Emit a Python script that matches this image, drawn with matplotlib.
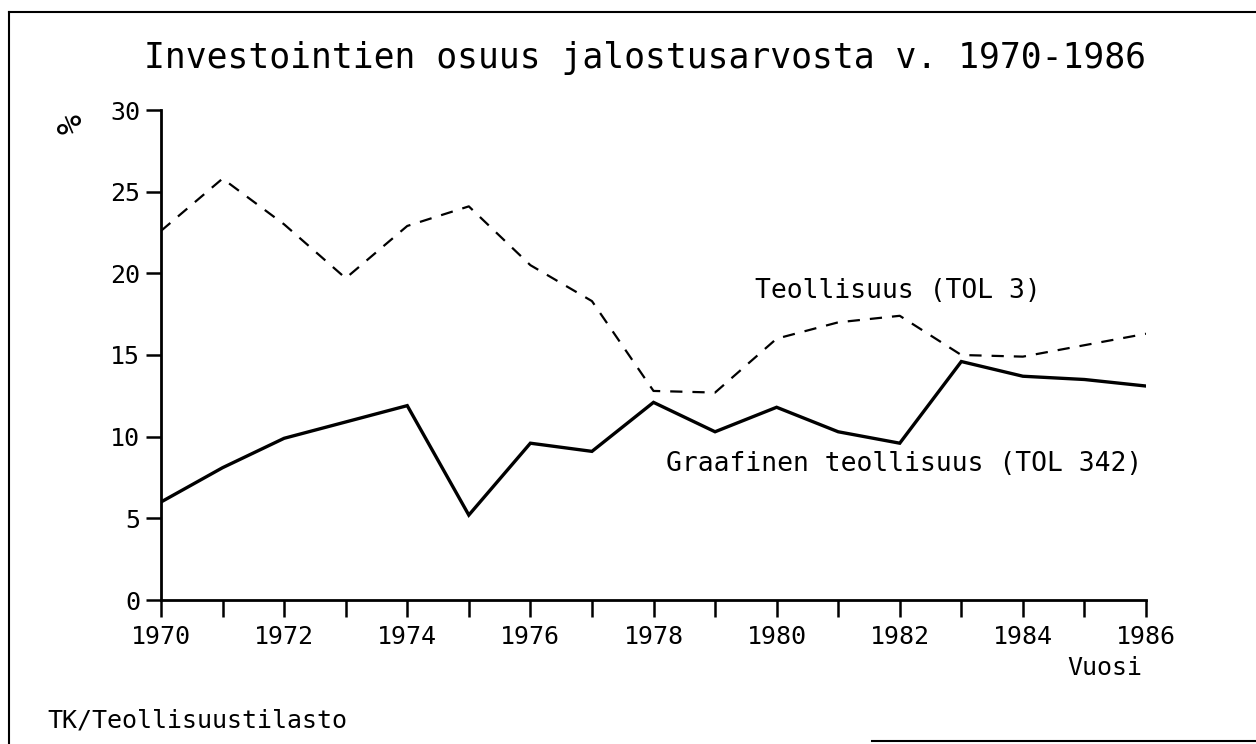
import numpy as np
import matplotlib.pyplot as plt
from matplotlib.lines import Line2D

# Data (percent)
years = np.arange(1970, 1987)
teollisuus = [22.6, 25.8, 23.0, 19.7, 22.9, 24.1, 20.5, 18.3, 12.8, 12.7,
              16.0, 17.0, 17.4, 15.0, 14.9, 15.6, 16.3]
graafinen = [6.0, 8.1, 9.9, 10.9, 11.9, 5.2, 9.6, 9.1, 12.1, 10.3,
             11.8, 10.3, 9.6, 14.6, 13.7, 13.5, 13.1]
y_ticks = [0, 5, 10, 15, 20, 25, 30]
x_labels = [str(y) if y % 2 == 0 else '' for y in years]

plt.rcParams['font.family'] = ['DejaVu Sans Mono']

W, H = 1256, 744
fig = plt.figure(figsize=(W / 100, H / 100), dpi=100)
ax = fig.add_axes([161 / W, 1 - 600 / H, (1146 - 161) / W, (600 - 110) / H])

ax.plot(years, graafinen, color='black', linewidth=2.4, solid_joinstyle='miter')
dashed, = ax.plot(years, teollisuus, color='black', linewidth=1.6)
dashed.set_dashes((5.5, 4.5))

ax.set_xlim(1970, 1986)
ax.set_ylim(0, 30)
ax.set_xticks(years)
ax.set_xticklabels(x_labels, fontsize=18)
ax.set_yticks(y_ticks)
ax.set_yticklabels([str(v) for v in y_ticks], fontsize=18)
ax.tick_params(axis='x', length=12, width=1.8, pad=6)
ax.tick_params(axis='y', length=11, width=1.8, pad=4)

for side in ['top', 'right']:
    ax.spines[side].set_visible(False)
for side in ['left', 'bottom']:
    ax.spines[side].set_linewidth(2)
ax.patch.set_visible(False)

# Series labels
ax.text(1979.65, 18.9, 'Teollisuus (TOL 3)', fontsize=19, va='center', ha='left')
ax.text(1978.2, 8.3, 'Graafinen teollisuus (TOL 342)', fontsize=19, va='center', ha='left')

# Title, axis labels, source
fig.text(645 / W, 1 - 58 / H, 'Investointien osuus jalostusarvosta v. 1970-1986',
         fontsize=25, ha='center', va='center')
fig.text(72 / W, 1 - 124 / H, '%', fontsize=24, rotation=90, ha='center', va='center')
fig.text(1142 / W, 1 - 668 / H, 'Vuosi', fontsize=18, ha='right', va='center')
fig.text(47 / W, 1 - 720 / H, 'TK/Teollisuustilasto', fontsize=18, ha='left', va='center')

# Frame of the scanned page
fig.add_artist(Line2D([9 / W, 9 / W], [0, 1 - 12 / H], transform=fig.transFigure,
                      color='black', linewidth=1.5))
fig.add_artist(Line2D([9 / W, 1], [1 - 12 / H, 1 - 12 / H], transform=fig.transFigure,
                      color='black', linewidth=1.5))
fig.add_artist(Line2D([872 / W, 1], [1 - 741 / H, 1 - 741 / H], transform=fig.transFigure,
                      color='black', linewidth=1.5))

fig.savefig('out.png', dpi=100)
